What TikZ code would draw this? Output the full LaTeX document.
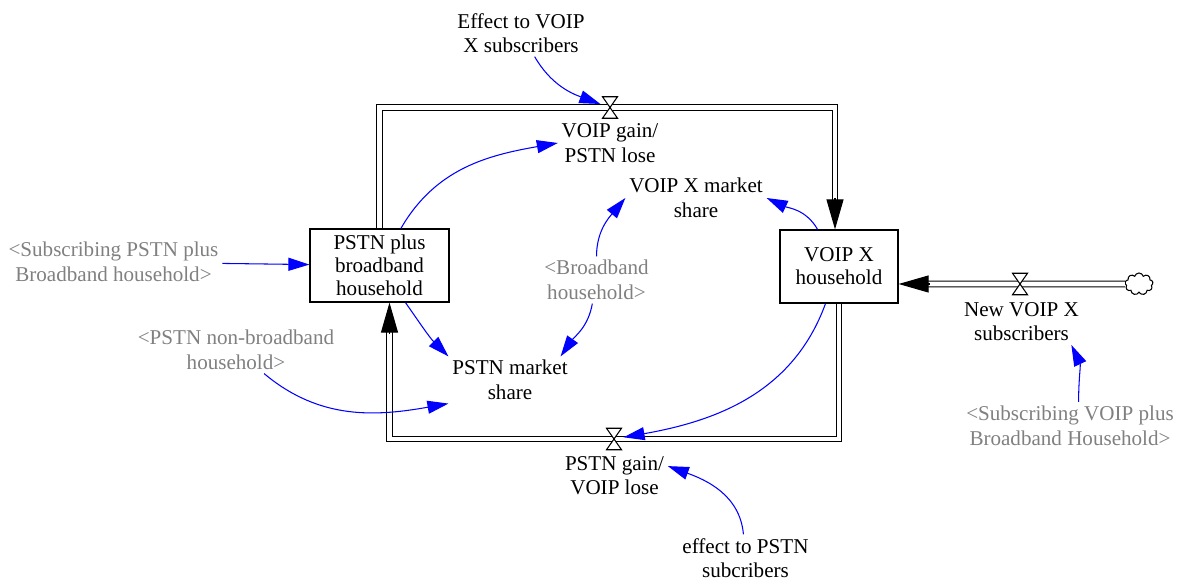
\documentclass[tikz,border=0pt]{standalone}
\usepackage{fontspec}
\setmainfont{Liberation Serif}
\usetikzlibrary{arrows.meta,shapes.symbols}

\tikzset{
  stock/.style={draw, line width=0.7pt, minimum width=2.78cm, minimum height=1.46cm,
    inner sep=0pt, font=\fontsize{12}{13}\selectfont},
  pipe/.style={draw, double, double distance=2.6pt, line width=0.6pt},
  pipehead/.style={line width=0.6pt, -{Triangle[length=0.6cm,width=0.34cm]}},
  valve/.style={minimum width=0.37cm, minimum height=0.5cm, inner sep=0pt,
    path picture={\draw[fill=white, line width=0.6pt]
      ([xshift=1pt,yshift=-1pt]path picture bounding box.north west) --
      ([xshift=-1pt,yshift=-1pt]path picture bounding box.north east) --
      ([xshift=1pt,yshift=1pt]path picture bounding box.south west) --
      ([xshift=-1pt,yshift=1pt]path picture bounding box.south east) -- cycle;}},
  source/.style={cloud, draw, cloud puffs=9, line width=0.6pt,
    minimum width=0.56cm, minimum height=0.44cm, inner sep=0pt},
  shadow/.style={text=gray},
  link/.style={blue, line width=0.6pt, -{Triangle[length=0.42cm,width=0.26cm]}}
}

\begin{document}
\begin{tikzpicture}[x=0.02cm, y=0.02cm, font=\fontsize{12}{14}\selectfont,
    every node/.style={align=center, inner sep=2pt}]
  \useasboundingbox (0,0) rectangle (1179,581);

  % stocks
  \node[stock] (pstn) at (379.5,315.5) {PSTN plus\\broadband\\household};
  \node[stock, minimum width=2.36cm] (voip) at (839,314.5) {VOIP X\\household};
  \node[source] (src) at (1139,297) {};

  % pipes
  \coordinate (gainv) at (610,473.5);
  \coordinate (lossv) at (614,142);
  \coordinate (tin) at ([xshift=-0.08cm]voip.north);
  \coordinate (bin) at ([xshift=0.2cm]pstn.south);
  \coordinate (rin) at (voip.east |- src);
  \draw[pipe] (pstn.north) |- (gainv) -| ([yshift=0.58cm]tin);
  \draw[pipe] (voip.south) |- (lossv) -| ([yshift=-0.58cm]bin);
  \draw[pipe] (src) -- ([xshift=0.58cm]rin);
  \draw[pipehead] ([yshift=0.62cm]tin) -- (tin);
  \draw[pipehead] ([yshift=-0.62cm]bin) -- (bin);
  \draw[pipehead] ([xshift=0.62cm]rin) -- (rin);

  % valves
  \node[valve] (vgain) at (gainv) {};
  \node[valve] (vloss) at (lossv) {};
  \node[valve] (vnew) at (1020,297) {};

  % variables
  \node (evoip) at (521,548) {Effect to VOIP\\X subscribers};
  \node (gainlbl) at (610,438) {VOIP gain/\\PSTN lose};
  \node (voipshare) at (696,383) {VOIP X market\\share};
  \node[shadow] (broadband) at (596.5,301) {<Broadband\\household>};
  \node (pstnshare) at (510,201) {PSTN market\\share};
  \node[shadow] (subpstn) at (113.5,319) {<Subscribing PSTN plus\\Broadband household>};
  \node[shadow] (nonbb) at (236,231) {<PSTN non-broadband\\household>};
  \node (newvoip) at (1021.5,259.3) {New VOIP X\\subscribers};
  \node[shadow] (subvoip) at (1070,155.5) {<Subscribing VOIP plus\\Broadband Household>};
  \node (plosslbl) at (614.5,105.5) {PSTN gain/\\VOIP lose};
  \node (epstn) at (745.5,23) {effect to PSTN\\subcribers};

  \path[link]
    (evoip) edge[out=-60, in=160] (vgain)
    (pstn) edge[out=60, in=190] (gainlbl.west)
    (pstn) edge[out=-55, in=135] (pstnshare.north west)
    (broadband) edge[out=-100, in=55] (pstnshare.25)
    (broadband) edge[out=90, in=230] (voipshare.west)
    (voip) edge[out=120, in=-25] (voipshare.east)
    (voip) edge[out=-110, in=10] (vloss)
    (nonbb) edge[out=-40, in=190] (pstnshare.south west)
    (subpstn) edge (pstn)
    (subvoip.70) edge[out=90, in=-65] (newvoip.-25)
    (epstn) edge[out=95, in=-20] (plosslbl.10);
\end{tikzpicture}
\end{document}
